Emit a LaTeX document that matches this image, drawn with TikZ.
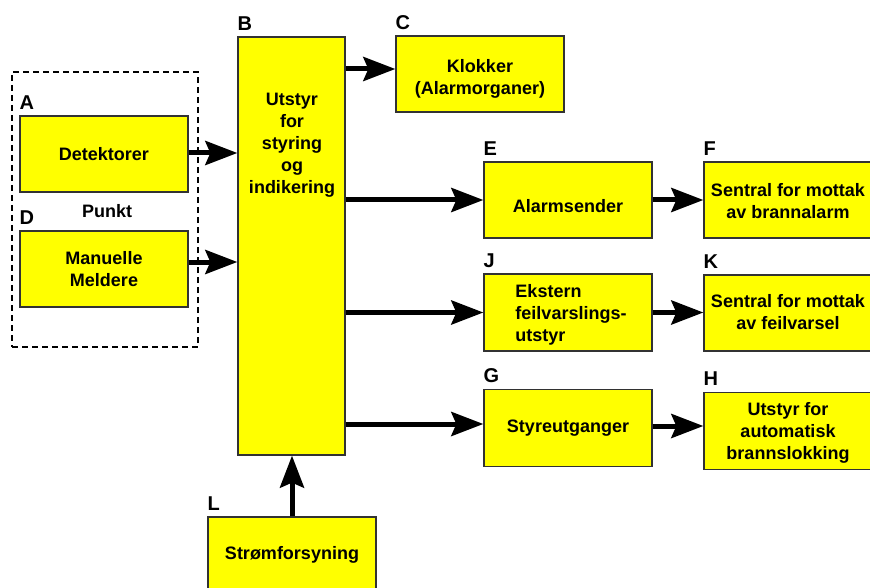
\documentclass[tikz,border=0pt]{standalone}
\usepackage{fontspec}
\setmainfont{Liberation Sans}
\usetikzlibrary{arrows.meta}
\definecolor{boxyellow}{RGB}{255,255,0}
\definecolor{boxline}{RGB}{50,50,50}
\newcommand\lowc[2]{\raisebox{-#1}[\height][\depth]{\begin{tabular}{@{}c@{}}#2\end{tabular}}}
\newcommand\lowl[2]{\raisebox{-#1}[\height][\depth]{\begin{tabular}{@{}l@{}}#2\end{tabular}}}
\tikzset{
 box/.style={draw=boxline, line width=1.3pt, fill=boxyellow, minimum width=168pt, minimum height=76pt, inner sep=2pt, align=center, font=\bfseries\fontsize{18}{22}\selectfont},
 txt/.style={align=center, inner sep=0pt, font=\bfseries\fontsize{18}{22}\selectfont},
 lab/.style={anchor=base west, inner sep=0pt, font=\bfseries\fontsize{20}{24}\selectfont, yshift=6pt},
 arr/.style={line width=5pt, -{Stealth[length=32pt,width=24pt,inset=5pt]}},
 grp/.style={draw=black, line width=1.5pt, dash pattern=on 6pt off 4pt, minimum width=186pt, minimum height=275pt, inner sep=0pt},
}
\begin{document}
\begin{tikzpicture}[x=1pt,y=-1pt]
\useasboundingbox (0,0) rectangle (870,588);
\clip (0,0) rectangle (870,588);
\fill[white] (0,0) rectangle (870,588);
% group
\node[grp] (grp) at (105,209.5) {};
\node[box] (A) at (104,154) {Detektorer};
\node[box] (D) at (104,269) {Manuelle\\Meldere};
\node[txt] (punkt) at (107,211) {Punkt};
% central
\node[box, minimum width=107pt, minimum height=418pt] (B) at (291.5,246) {};
\node[txt] (Btxt) at (292,145) {Utstyr\\for\\styring\\og\\indikering};
\node[box] (C) at (480,74) {\lowc{5pt}{Klokker\\(Alarmorganer)}};
\node[box] (E) at (568,200) {\raisebox{-6pt}[\height][\depth]{Alarmsender}};
\node[box] (F) at (788,200) {\lowc{3pt}{Sentral for mottak\\av brannalarm}};
\node[box, minimum height=77pt] (J) at (568,312.5) {\lowl{2.5pt}{\hspace*{6pt}Ekstern\\\hspace*{6pt}feilvarslings-\\\hspace*{6pt}utstyr}};
\node[box] (K) at (788,313) {\lowc{1pt}{Sentral for mottak\\av feilvarsel}};
\node[box, minimum height=77pt] (G) at (568,428) {Styreutganger};
\node[box, minimum height=77pt] (H) at (788,431) {\lowc{2pt}{Utstyr for\\automatisk\\brannslokking}};
\node[box] (L) at (292,555) {Strømforsyning};
% letter labels
\node[lab] (labA) at (A.north west) {A};
\node[lab] (labD) at (D.north west) {D};
\node[lab] (labB) at (B.north west) {B};
\node[lab] (labC) at (C.north west) {C};
\node[lab] (labE) at (E.north west) {E};
\node[lab] (labF) at (F.north west) {F};
\node[lab] (labJ) at (J.north west) {J};
\node[lab] (labK) at (K.north west) {K};
\node[lab] (labG) at (G.north west) {G};
\node[lab] (labH) at (H.north west) {H};
\node[lab] (labL) at (L.north west) {L};
% arrows
\draw[arr] (A.east |- 0,153) -- (B.west |- 0,153);
\draw[arr] (D.east |- 0,262) -- (B.west |- 0,262);
\draw[arr] (B.east |- 0,69) -- (C.west |- 0,69);
\draw[arr] (B.east |- E.west) -- (E.west);
\draw[arr] (B.east |- J.west) -- (J.west);
\draw[arr] (B.east |- 0,424) -- (G.west |- 0,424);
\draw[arr] (E.east) -- (F.west);
\draw[arr] (J.east) -- (J.east -| K.west);
\draw[arr] (G.east |- 0,426) -- (H.west |- 0,426);
\draw[arr] (L.north) -- (L.north |- B.south);
\end{tikzpicture}
\end{document}
